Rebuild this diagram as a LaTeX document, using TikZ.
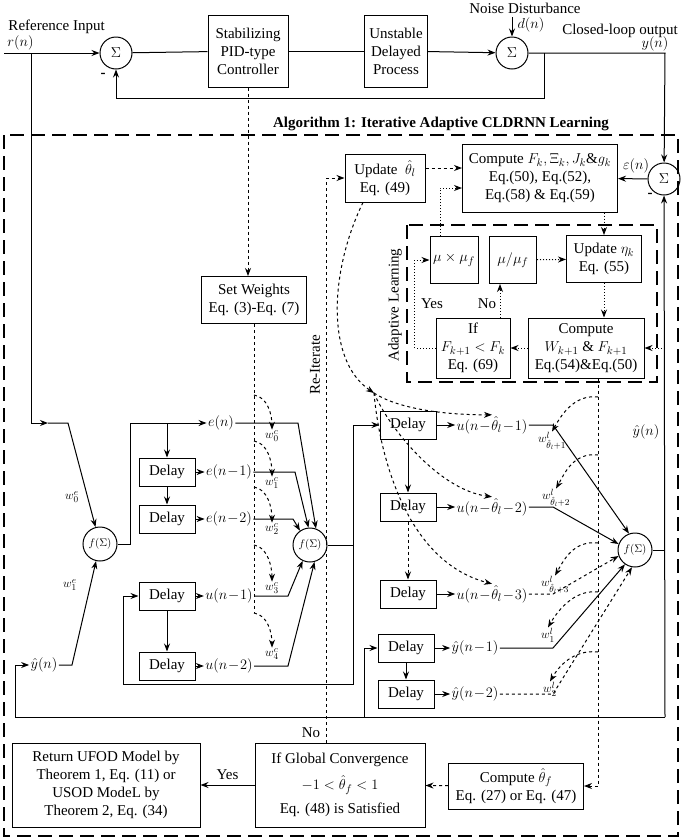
\documentclass[tikz,border=0pt]{standalone}
\usepackage{fontspec}
\setmainfont{Liberation Serif}
\usepackage{tikz}
\usetikzlibrary{arrows,arrows.meta}
\usepackage{amsmath,amssymb}

\begin{document}
\fontsize{15}{18}\selectfont
\begin{tikzpicture}[->,>={Stealth[length=8pt,width=6pt]},line width=1pt,x=1pt,y=-1pt]
  \tikzstyle{block}=[draw,rectangle,align=center,inner sep=2pt]
  \tikzstyle{sumnode}=[draw,circle,minimum size=32pt,inner sep=0pt]
  \tikzstyle{fnode}=[draw,circle,minimum size=34pt,inner sep=0pt,font=\fontsize{11}{12}\selectfont]
  \tikzstyle{delaybox}=[block,minimum width=56pt,minimum height=28pt]
  \tikzstyle{sig}=[inner sep=1pt]
  \tikzstyle{wlab}=[inner sep=0pt,font=\fontsize{12.5}{13}\selectfont]
  \tikzstyle{longdash}=[-,line width=1.3pt,dash pattern=on 14pt off 7pt]
\useasboundingbox (0,0) rectangle (685,839);

\node[anchor=west] (refin) at (3,27) {Reference Input};
\node[anchor=west,sig] (rn) at (6,43) {$r(n)$};
\node[sumnode] (sum1) at (116,53) {$\Sigma$};
\node[block,minimum width=80pt,minimum height=72pt] (ctrl) at (248,51) {Stabilizing\\PID-type\\Controller};
\node[block,minimum width=63pt,minimum height=72pt] (proc) at (396,51) {Unstable\\Delayed\\Process};
\node[sumnode] (sum2) at (512,53) {$\Sigma$};
\node (noise) at (525,8) {Noise Disturbance};
\node[sig] (dn) at (531,25) {$d(n)$};
\node (clo) at (620,31) {Closed-loop output};
\node[sig] (yn) at (655,44) {$y(n)$};
\node[font=\bfseries] (m1) at (103,75) {-};
\node[sumnode] (sum3) at (664,179) {$\Sigma$};
\node[sig] (eps) at (636,166) {$\varepsilon(n)$};
\node[font=\bfseries] (m3) at (650,195) {-};
\node[font=\bfseries] (algt) at (441,124) {Algorithm 1: Iterative Adaptive CLDRNN Learning};

\coordinate (rin) at (4,53);
\coordinate (nz) at (512,17);
\coordinate (ycor) at (665,53);
\coordinate (fbk) at (544,53);
\draw (rin) -- (sum1);
\draw[-] (sum1) -- (ctrl);
\draw[-] (ctrl) -- (proc);
\draw (proc) -- (sum2);
\draw (nz) -- (sum2);
\draw (sum2) -- (ycor) -- (sum3);
\draw (fbk) -- (544,98) -| (sum1);
\draw[longdash] (4,135) rectangle (678,836);

\node[block,minimum width=155pt,minimum height=68pt] (compF) at (540,178) {Compute $F_k,\Xi_k,J_k\&g_k$\\Eq.(50), Eq.(52),\\Eq.(58) \& Eq.(59)};
\node[block,minimum width=80pt,minimum height=48pt] (updth) at (385,178) {Update ~$\hat{\theta}_l$\\Eq. (49)};
\node[block,minimum width=48pt,minimum height=47pt] (mumul) at (454,260) {$\mu\times\mu_f$};
\node[block,minimum width=47pt,minimum height=47pt] (mudiv) at (513,260) {$\mu/\mu_f$};
\node[block,minimum width=75pt,minimum height=47pt] (upeta) at (604,259) {Update $\eta_k$\\Eq. (55)};
\node[block,minimum width=116pt,minimum height=60pt] (compW) at (586,348) {Compute\\$W_{k+1}$ \& $F_{k+1}$\\Eq.(54)\&Eq.(50)};
\node[block,minimum width=74pt,minimum height=60pt] (ifF) at (473,348) {If\\$F_{k+1}<F_k$\\Eq. (69)};
\node[rotate=90] (adl) at (395,305) {Adaptive Learning};
\node (yes1) at (432,304) {Yes};
\node (no1) at (487,304) {No};
\draw[longdash] (407,225) rectangle (657,382);

\draw (sum3) -- (compF);
\draw[dashed] ([yshift=10pt]updth.east) -- ([yshift=10pt]updth.east -| compF.west);
\draw[dotted] (mudiv) -- (upeta);
\draw[dotted] (upeta.north |- compF.south) -- (upeta.north);
\draw[dotted] (upeta.south) -- (upeta.south |- compW.north);
\draw[dotted] (compW) -- (ifF);
\draw[dotted] ([xshift=27pt]ifF.north) -- ([xshift=27pt]ifF.north |- mudiv.south);
\draw[dotted] (ifF.west) -- ++(-21,0) |- (mumul.west);
\draw[dotted] ([xshift=-14pt]mumul.north) |- ([yshift=-10pt]compF.west);

\node[block,minimum width=105pt,minimum height=47pt] (sw) at (254,300) {Set Weights\\Eq. (3)-Eq. (7)};
\draw[dashed] (ctrl) -- (ctrl |- sw.north);
\coordinate (wc) at (254,613);
\draw[dashed,-] (sw.south -| wc) -- (wc);

\node[fnode] (f1) at (100,544) {$f(\Sigma)$};
\node[wlab] (we0) at (72,497) {$w^e_0$};
\node[wlab] (we1) at (70,585) {$w^e_1$};
\node[sig] (yhl) at (44,665) {$\hat{y}(n)$};
\node[sig] (en) at (221,423) {$e(n)$};
\node[delaybox] (de1) at (167,472) {Delay};
\node[delaybox] (de2) [below of=de1,node distance=47pt] {Delay};
\node[sig] (en1) [right of=de1,node distance=62pt] {$e(n\!-\!1)$};
\node[sig] (en2) [right of=de2,node distance=62pt] {$e(n\!-\!2)$};
\node[delaybox] (du1) at (167,596) {Delay};
\node[delaybox] (du2) [below of=du1,node distance=70pt] {Delay};
\node[sig] (un1) [right of=du1,node distance=62pt] {$u(n\!-\!1)$};
\node[sig] (un2) [right of=du2,node distance=62pt] {$u(n\!-\!2)$};
\node[fnode] (f2) at (310,545) {$f(\Sigma)$};
\node[wlab] (wc0) at (272,436) {$w^c_0$};
\node[wlab] (wc1) at (272,483) {$w^c_1$};
\node[wlab] (wc2) at (272,529) {$w^c_2$};
\node[wlab] (wc3) at (272,588) {$w^c_3$};
\node[wlab] (wc4) at (272,654) {$w^c_4$};

\coordinate (rtap) at (31,53);
\coordinate (rmid) at (48,423);
\coordinate (ybl) at (15,717);
\draw (rtap) |- (rmid);
\draw (rmid) -- ++(20,0) -- (f1);
\draw (ybl) |- (yhl);
\draw (yhl) -- ++(28,0) -- (f1);
\draw (f1) -- ++(30,0) |- (en);
\draw (de1 |- en) -- (de1);
\draw (de1) -- (de2);
\draw (de1) -- (en1);
\draw (de2) -- (en2);
\draw (du1) -- (du2);
\draw (du1) -- (un1);
\draw (du2) -- (un2);
\draw (en) -- ++(77,0) -- (f2.70);
\draw (en1) -- ++(66,0) -- (f2.95);
\draw (en2) -- ++(64,0) -- (f2.125);
\draw (un1) -- ++(59,0) -- (f2.-115);
\draw (un2) -- ++(59,0) -- (f2.-75);

\foreach \n/\yy in {0/395,1/441,2/487,3/545,4/613}
  \coordinate (wt\n) at (254,\yy);
\foreach \n in {0,...,4}
  \draw[dashed] (wt\n) .. controls +(14,2) and +(0,-14) .. (wc\n.north);

\node[delaybox] (dt1) at (408,425) {Delay};
\node[delaybox] (dt2) [below of=dt1,node distance=82pt] {Delay};
\node[delaybox] (dt3) [below of=dt2,node distance=87pt] {Delay};
\node[delaybox] (dy1) at (406,648) {Delay};
\node[delaybox] (dy2) [below of=dy1,node distance=46pt] {Delay};
\node[sig] (ut1) [right of=dt1,node distance=84pt] {$u(n\!-\!\hat{\theta}_l\!-\!1)$};
\node[sig] (ut2) [right of=dt2,node distance=84pt] {$u(n\!-\!\hat{\theta}_l\!-\!2)$};
\node[sig] (ut3) [right of=dt3,node distance=84pt] {$u(n\!-\!\hat{\theta}_l\!-\!3)$};
\node[sig] (yh1) [right of=dy1,node distance=69pt] {$\hat{y}(n\!-\!1)$};
\node[sig] (yh2) [right of=dy2,node distance=69pt] {$\hat{y}(n\!-\!2)$};
\node[fnode] (f3) at (635,550) {$f(\Sigma)$};
\node[sig] (yhr) at (646,432) {$\hat{y}(n)$};
\node[wlab] (wl1) at (552,441) {$w^l_{\hat{\theta}_l+1}$};
\node[wlab] (wl2) at (556,498) {$w^l_{\hat{\theta}_l+2}$};
\node[wlab] (wl3) at (555,585) {$w^l_{\hat{\theta}_l+3}$};
\node[wlab] (wl4) at (548,635) {$w^l_1$};
\node[wlab] (wl5) at (550,689) {$w^l_2$};

\coordinate (ujn) at (353,545);
\coordinate (yhb) at (665,717);
\draw[-] (f2) -- (ujn);
\draw (ujn) |- (dt1);
\draw (ujn) -- (353,684) -| ([xshift=-15pt]du1.west) -- (du1.west);
\draw (dt1) -- (ut1);
\draw (dt2) -- (ut2);
\draw (dt3) -- (ut3);
\draw (dt1) -- (dt2);
\draw[dashed] (dt2) -- (dt3);
\draw (dy1) -- (yh1);
\draw (dy2) -- (yh2);
\draw (dy1) -- (dy2);
\draw ([xshift=-13pt]dy1.west |- yhb) |- (dy1);
\draw (ut1) -- ++(61,0) -- (f3.110);
\draw (ut2) -- ++(61,0) -- (f3.160);
\draw[dashed] (ut3) -- ++(61,0) -- (f3.200);
\draw (yh1) -- ++(78,0) -- (f3.235);
\draw[dashed] (yh2) -- ++(78,0) -- (f3.260);
\draw[-] (f3) -- (f3 -| yhb);
\draw[-] (yhb) -- (ybl);
\draw (yhb) -- (sum3);
\draw[dotted] (yhb |- compW) -- (compW);

\foreach \n/\yy in {1/397,2/455,3/543,4/592,5/652}
  \coordinate (wr\n) at (598,\yy);
\foreach \n in {1,...,5}
  \draw[dashed] (wr\n) .. controls +(-25,-3) and +(8,-14) .. (wl\n.north);

\coordinate (fan) at (374,393);
\draw[dashed] ([xshift=-22pt]updth.south) .. controls (330,270) and (325,360) .. (fan);
\draw[dashed] (fan) .. controls (400,410) and (450,415) .. (ut1.north);
\draw[dashed] (fan) .. controls (390,430) and (440,490) .. (ut2.north);
\draw[dashed] (fan) .. controls (378,440) and (400,560) .. (ut3.north);

\node[block,minimum width=135pt,minimum height=46pt] (compth) at (516,786) {Compute $\hat{\theta}_f$\\Eq. (27) or Eq. (47)};
\node[block,minimum width=170pt,minimum height=84pt] (ifg) at (340,785) {If Global Convergence\\[8pt]$-1<\hat{\theta}_f<1$\\[6pt]Eq. (48) is Satisfied};
\node[block,minimum width=188pt,minimum height=84pt] (ret) at (106,785) {Return UFOD Model by\\Theorem 1, Eq. (11) or\\USOD ModeL by\\Theorem 2, Eq. (34)};
\node (no2) at (311,733) {No};
\node[rotate=90] (reit) at (315,365) {Re-Iterate};
\coordinate (rit) at (326,0);
\draw[dashed] (compW.south -| wr1) |- (compth);
\draw[dashed] (compth) -- (ifg);
\draw (ifg) -- (ret) node[midway,above] (yes2) {Yes};
\draw[dashed] (ifg.north -| rit) |- (updth);
\end{tikzpicture}
\end{document}
